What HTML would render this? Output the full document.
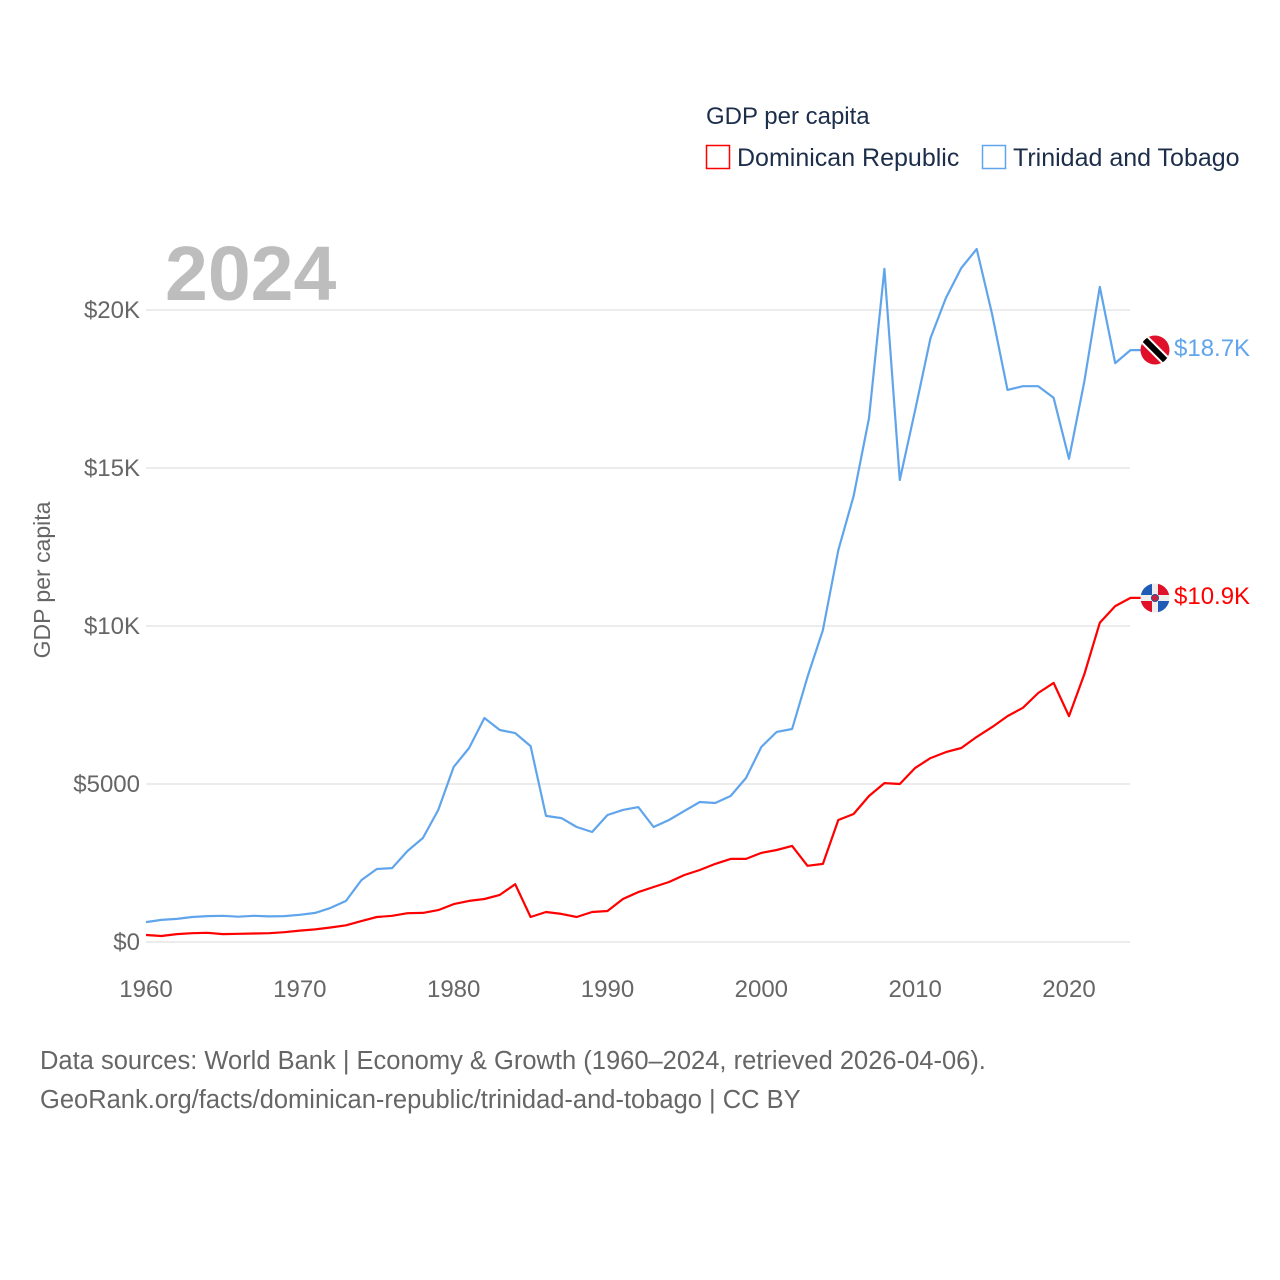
<!DOCTYPE html>
<html><head><meta charset="utf-8"><style>
html,body{margin:0;padding:0;background:#fff;}
svg{display:block;font-family:"Liberation Sans",sans-serif;}
</style></head><body>
<svg id="chart" width="1280" height="1280" viewBox="0 0 1280 1280">
<g id="grid"></g>
<g id="axes"></g>
<text x="165" y="300" font-size="77" font-weight="bold" fill="#bdbdbd">2024</text>
<text transform="translate(50,580) rotate(-90)" text-anchor="middle" font-size="23" fill="#666">GDP per capita</text>
<g id="series"></g>
<g>
<text x="706" y="124" font-size="24" fill="#1c2e4a">GDP per capita</text>
<g>
<rect x="706.5" y="145.5" width="23" height="23" fill="none" stroke="#ff0000" stroke-width="1.5"/>
<text x="737" y="166" font-size="25" fill="#1c2e4a">Dominican Republic</text></g>
<g>
<rect x="982.5" y="145.5" width="23" height="23" fill="none" stroke="#60a5ec" stroke-width="1.5"/>
<text x="1013" y="166" font-size="25" fill="#1c2e4a">Trinidad and Tobago</text></g>
</g>
<defs>
<clipPath id="c1"><circle cx="1155" cy="350" r="14.5"/></clipPath>
<clipPath id="c2"><circle cx="1155" cy="598" r="14.5"/></clipPath>
</defs>
<g clip-path="url(#c1)">
<rect x="1138" y="333" width="34" height="34" fill="#e0102a"/>
<line x1="1138" y1="333" x2="1172" y2="367" stroke="#fff" stroke-width="10"/>
<line x1="1138" y1="333" x2="1172" y2="367" stroke="#000" stroke-width="6"/>
</g>
<g clip-path="url(#c2)">
<rect x="1138" y="581" width="34" height="34" fill="#eee"/>
<rect x="1138" y="581" width="14" height="14" fill="#1f5bb5"/>
<rect x="1158" y="581" width="14" height="14" fill="#e0102a"/>
<rect x="1138" y="601" width="14" height="14" fill="#e0102a"/>
<rect x="1158" y="601" width="14" height="14" fill="#1f5bb5"/>
<circle cx="1155" cy="598" r="3.5" fill="#d02040" stroke="#2a4a8a" stroke-width="1"/>
</g>
<text x="1174" y="356" font-size="24" fill="#60a5ec">$18.7K</text>
<text x="1174" y="604" font-size="24" fill="#ff0000">$10.9K</text>
<text x="40" y="1069" font-size="25.5" fill="#666">Data sources: World Bank | Economy &amp; Growth (1960–2024, retrieved 2026-04-06).</text>
<text x="40" y="1108" font-size="25.5" fill="#666">GeoRank.org/facts/dominican-republic/trinidad-and-tobago | CC BY</text>
</svg>
<script>
const years = [];for(let y=1960;y<=2024;y++)years.push(y);
const trinidad = [630,700,730,790,820,830,800,830,810,820,860,920,1080,1300,1960,2310,2340,2880,3290,4180,5540,6140,7090,6710,6610,6200,3990,3920,3640,3480,4020,4180,4270,3640,3860,4150,4430,4400,4620,5190,6170,6650,6740,8390,9870,12400,14110,16580,21300,14620,16840,19110,20380,21330,21930,19870,17470,17590,17590,17220,15290,17750,20730,18320,18730];
const dominican = [220,190,250,280,290,250,260,270,280,310,360,400,460,530,660,790,830,910,920,1010,1200,1300,1360,1490,1830,790,950,890,790,950,980,1360,1580,1740,1900,2120,2280,2470,2630,2630,2820,2910,3040,2410,2470,3860,4050,4620,5030,5000,5510,5820,6010,6140,6490,6800,7150,7410,7880,8200,7150,8480,10100,10630,10890];
const yTicks = [0,5000,10000,15000,20000];
const yTickLabels = ["$0","$5000","$10K","$15K","$20K"];
const xTicks = [1960,1970,1980,1990,2000,2010,2020];

const NS="http://www.w3.org/2000/svg";
const X=y=>146+(y-1960)*(1069-146)/60;
const Y=v=>942-v*(632/20000);
function mk(t,a,p){const e=document.createElementNS(NS,t);for(const k in a)e.setAttribute(k,a[k]);p.appendChild(e);return e;}
const grid=document.getElementById('grid'),axes=document.getElementById('axes'),ser=document.getElementById('series');
yTicks.forEach((v,i)=>{
  const l=mk('line',{x1:146,x2:1130,y1:Y(v),y2:Y(v),stroke:'#e6e6e6','stroke-width':1.5},grid);
  
  
  const t=mk('text',{x:140,y:Y(v)+8,'text-anchor':'end','font-size':24,fill:'#666'},axes);
  t.textContent=yTickLabels[i];
  
  
});
xTicks.forEach(v=>{
  const t=mk('text',{x:X(v),y:997,'text-anchor':'middle','font-size':24,fill:'#666'},axes);
  t.textContent=v;
  
  
});
function line(data,color,name){
  let d=data.map((v,i)=>(i?'L':'M')+X(years[i]).toFixed(1)+','+Y(v).toFixed(1)).join('');
  d+='L1141,'+Y(data[data.length-1]).toFixed(1);
  const p=mk('path',{d:d,fill:'none',stroke:color,'stroke-width':2.2,'stroke-linejoin':'round'},ser);
  
  
}
line(trinidad,'#60a5ec','line-trinidad-and-tobago');
line(dominican,'#ff0000','line-dominican-republic');
</script>
</body></html>
